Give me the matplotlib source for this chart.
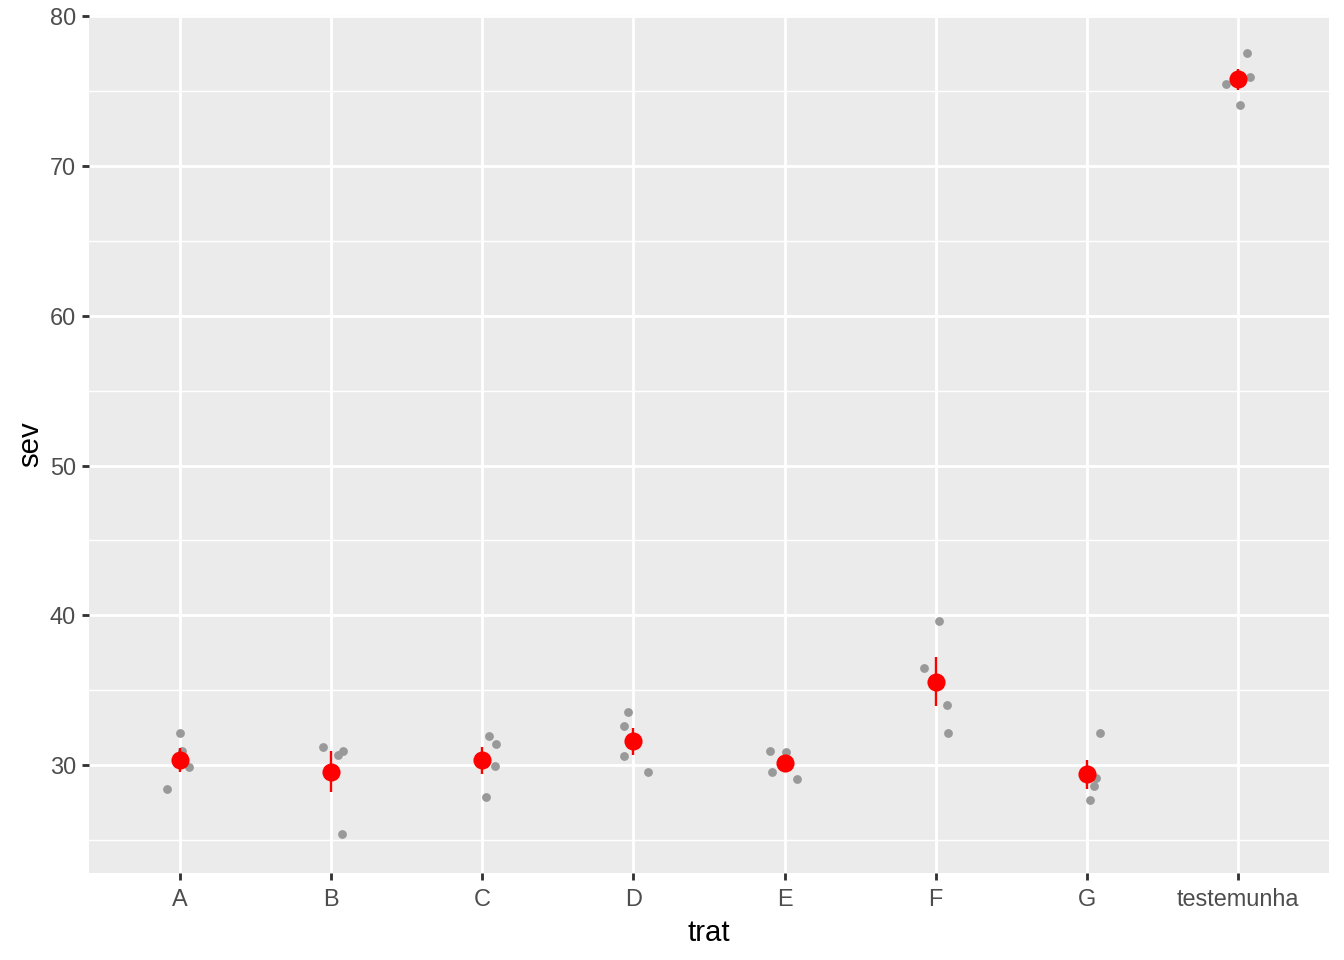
import matplotlib.pyplot as plt
import numpy as np

plt.rcParams['font.family'] = ['Liberation Sans', 'DejaVu Sans']

trat = ['A', 'B', 'C', 'D', 'E', 'F', 'G', 'testemunha']

# severity readings, 4 reps per treatment
sev = [
    [32.16, 30.96, 29.89, 28.42],
    [31.22, 30.67, 30.96, 25.39],
    [31.96, 31.42, 29.96, 27.88],
    [33.54, 32.63, 30.62, 29.53],
    [30.96, 30.89, 29.53, 29.06],
    [39.62, 36.48, 34.03, 32.16],
    [32.16, 29.11, 28.60, 27.68],
    [77.58, 75.98, 75.51, 74.11],
]

# horizontal jitter of each rep (category units)
jitter = [
    [0.000, 0.013, 0.060, -0.081],
    [-0.055, 0.044, 0.077, 0.071],
    [0.044, 0.090, 0.086, 0.026],
    [-0.035, -0.063, -0.063, 0.095],
    [-0.095, 0.007, -0.081, 0.084],
    [0.018, -0.075, 0.077, 0.084],
    [0.084, 0.060, 0.044, 0.018],
    [0.057, 0.075, -0.084, 0.011],
]

fig = plt.figure(figsize=(7, 5), dpi=192)
ax = fig.add_axes([0.0662, 0.0909, 0.9226, 0.8938])
ax.set_facecolor('#EBEBEB')

for i, (vals, jit) in enumerate(zip(sev, jitter)):
    ax.plot(np.array(jit) + i, vals, 'o', color='#999999', markersize=3.3,
            markeredgewidth=0, zorder=3)

for i, vals in enumerate(sev):
    v = np.array(vals)
    m = v.mean()
    se = v.std(ddof=1) / np.sqrt(len(v))
    ax.vlines(i, m - se, m + se, color='red', linewidth=0.9, zorder=4)
    ax.plot(i, m, 'o', color='red', markersize=6.8, markeredgewidth=0, zorder=5)

ax.set_xlim(-0.6, len(trat) - 0.4)
ax.set_ylim(22.8, 80.12)
ax.set_xticks(range(len(trat)))
ax.set_xticklabels(trat)
ax.set_yticks([30, 40, 50, 60, 70, 80])
ax.set_yticks([25, 35, 45, 55, 65, 75], minor=True)

ax.grid(True, which='major', color='white', linewidth=1.07)
ax.grid(True, which='minor', axis='y', color='white', linewidth=0.53)
ax.set_axisbelow(True)
for s in ax.spines.values():
    s.set_visible(False)

ax.tick_params(which='major', length=2.75, width=1.07, color='#333333',
               labelsize=8.8, labelcolor='#4D4D4D', pad=2.2)
ax.tick_params(axis='x', which='major', pad=3)
ax.tick_params(which='minor', length=0)

ax.set_xlabel('trat', fontsize=11, color='black', labelpad=3)
ax.set_ylabel('sev', fontsize=11, color='black', labelpad=2)

fig.savefig('out.png', dpi=192)
